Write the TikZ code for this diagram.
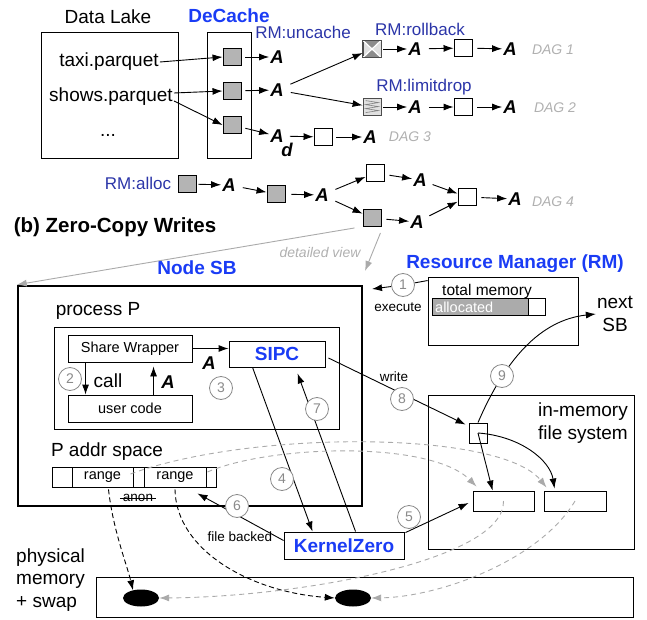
\documentclass[tikz,border=0pt]{standalone}
\usepackage{fontspec}
\setmainfont{Liberation Sans}
\usetikzlibrary{arrows.meta,calc,shapes.geometric}
\definecolor{decblue}{HTML}{1A3CF5}
\definecolor{rmblue}{HTML}{2B35A8}
\definecolor{sqgrey}{HTML}{B4B4B4}
\definecolor{numgrey}{HTML}{8A8A8A}
\definecolor{dashgrey}{HTML}{AAAAAA}
\definecolor{daggrey}{HTML}{B0B0B0}
\tikzset{
 txt/.style={font=\fontsize{19}{22.5}\selectfont, inner sep=1pt},
 bluet/.style={font=\fontsize{19}{22}\selectfont\bfseries, text=decblue, inner sep=1pt},
 rmt/.style={font=\fontsize{17}{20}\selectfont, text=rmblue, inner sep=1pt},
 small/.style={font=\fontsize{14.5}{17}\selectfont},
 tiny/.style={font=\fontsize{13.5}{16}\selectfont, inner sep=1pt},
 dagl/.style={font=\fontsize{14}{17}\selectfont\itshape, text=daggrey, inner sep=1pt},
 Aa/.style={font=\fontsize{18.5}{20}\selectfont\bfseries\itshape, inner sep=1pt},
 gsq/.style={draw, fill=sqgrey, minimum width=18pt, minimum height=17pt, inner sep=0pt, line width=0.9pt},
 wsq/.style={gsq, fill=white},
 box/.style={draw, line width=0.9pt, inner sep=0pt},
 arr/.style={-{Latex[length=10pt,width=7pt]}, line width=0.9pt},
 garr/.style={-{Latex[length=10pt,width=7pt]}, line width=0.9pt, draw=dashgrey},
 gdash/.style={garr, dash pattern=on 5pt off 4pt},
 bdash/.style={arr, dash pattern=on 5pt off 3pt},
 num/.style={circle, draw=numgrey, text=numgrey, fill=white, minimum size=23pt, inner sep=0pt, line width=0.8pt, font=\fontsize{14}{16}\selectfont},
}
\begin{document}
\begin{tikzpicture}[x=1pt,y=-1pt]
\path[use as bounding box] (0,0) rectangle (647,620);

% ---------- top: DeCache ----------
\node[txt] (dl) at (108,17) {Data Lake};
\node[box, minimum width=137pt, minimum height=126pt] (lake) at (109.5,95) {};
\node[txt] (taxi) at (109,62) {taxi.parquet};
\node[txt] (shows) at (111,97) {shows.parquet};
\node[txt] (dots) at (108,135) {...};
\node[bluet] (dc) at (229,16) {DeCache};
\node[box, minimum width=44pt, minimum height=126pt] (dcbox) at (229,95) {};
\node[gsq] (s1) at (232,57) {};
\node[gsq] (s2) at (232,91) {};
\node[gsq] (s3) at (232,125) {};
\node[rmt] (rmu) at (303,32) {RM:uncache};
\draw[arr] (taxi.east) -- (s1.west);
\draw[arr] ($(shows.east)+(0,-4)$) -- (s2.west);
\draw[arr] ($(shows.east)+(0,4)$) -- (s3.west);
\node[Aa] (a1) at (277,57) {A};
\node[Aa] (a2) at (277,90) {A};
\node[Aa] (a3) at (277,136) {A};
\node[Aa] (a3d) at (287,150) {d};
\draw[arr,shorten <=4pt] (s1) -- (a1);
\draw[arr,shorten <=4pt] (s2) -- (a2);
\draw[arr,shorten <=4pt] (s3) -- (a3);
\node[wsq] (w3) at (323,137) {};
\draw[arr,shorten <=5pt] (a3) -- (w3);
\node[Aa] (a3b) at (370,137) {A};
\draw[arr,shorten <=4pt] (w3) -- (a3b);
\node[dagl] (dag3) at (410,137) {DAG 3};

% rollback row
\node[draw=black!70, line width=0.8pt, fill=black!12, minimum width=18pt, minimum height=17pt, inner sep=0pt] (rb) at (372,49) {};
\fill[black!45] (rb.north west) -- (rb.center) -- (rb.north east) -- cycle;
\fill[black!45] (rb.south west) -- (rb.center) -- (rb.south east) -- cycle;
\draw[white, line width=1.2pt] (rb.north west) -- (rb.south east) (rb.north east) -- (rb.south west);
\draw[black!70, line width=0.8pt] (rb.north west) rectangle (rb.south east);
\node[rmt] (rmr) at (420,29) {RM:rollback};
\node[Aa] (a4) at (415,49) {A};
\node[wsq] (w1) at (463,48) {};
\node[Aa] (a5) at (510,49) {A};
\node[dagl] (dag1) at (553,50) {DAG 1};
\draw[arr,shorten <=2pt] (rb) -- (a4);
\draw[arr,shorten <=6pt] (a4) -- (w1);
\draw[arr,shorten <=5pt] (w1) -- (a5);

% limitdrop row
\node[draw=black!70, line width=0.8pt, fill=black!12, minimum width=18pt, minimum height=17pt, inner sep=0pt] (ld) at (372,107) {};
\draw[black!50, line width=0.6pt] ($(ld.north west)+(3,2.5)$) -- ($(ld.north east)+(-3,4.5)$) -- ($(ld.north west)+(3,6.5)$) -- ($(ld.north east)+(-3,8.5)$) -- ($(ld.north west)+(3,10.5)$) -- ($(ld.north east)+(-3,12.5)$) -- ($(ld.north west)+(3,14.5)$);
\node[rmt] (rml2) at (424,87) {RM:limitdrop};
\node[Aa] (a6) at (415,107) {A};
\node[wsq] (w2) at (463,107) {};
\node[Aa] (a7) at (510,107) {A};
\node[dagl] (dag2) at (555,108) {DAG 2};
\draw[arr,shorten <=2pt] (ld) -- (a6);
\draw[arr,shorten <=6pt] (a6) -- (w2);
\draw[arr,shorten <=5pt] (w2) -- (a7);
\draw[arr,shorten <=6pt] (a2) -- (rb);
\draw[arr,shorten <=6pt] (a2) -- (ld);

% DAG 4 row
\node[rmt] (rma) at (138,183) {RM:alloc};
\node[gsq] (g1) at (187,184) {};
\node[Aa] (a8) at (229,185) {A};
\node[gsq] (g2) at (276,194) {};
\node[Aa] (a9) at (322,195) {A};
\node[wsq] (w4) at (375,173) {};
\node[gsq] (g3) at (372,218) {};
\node[Aa] (a10) at (420,180) {A};
\node[Aa] (a11) at (417,222) {A};
\node[wsq] (w5) at (467,197) {};
\node[Aa] (a12) at (515,199) {A};
\node[dagl] (dag4) at (553,202) {DAG 4};
\draw[arr,shorten <=2pt] (g1) -- (a8);
\draw[arr,shorten <=6pt] (a8) -- (g2);
\draw[arr,shorten <=6pt] (g2) -- (a9);
\draw[arr,shorten <=6pt] (a9) -- (w4);
\draw[arr,shorten <=6pt] (a9) -- (g3);
\draw[arr,shorten <=5pt] (w4) -- (a10);
\draw[arr,shorten <=5pt] (g3) -- (a11);
\draw[arr,shorten <=5pt] (a10) -- (w5);
\draw[arr,shorten <=5pt] (a11) -- (w5);
\draw[arr,shorten <=5pt] (w5) -- (a12);

\node[font=\fontsize{20.5}{24}\selectfont\bfseries, inner sep=1pt] (zc) at (115,227) {(b) Zero-Copy Writes};
\node[font=\fontsize{14}{16}\selectfont\itshape, text=daggrey, inner sep=1pt] (dv) at (320,252) {detailed view};

% ---------- Node SB ----------
\node[bluet] (nsb) at (197,268) {Node SB};
\node[draw, line width=2.5pt, minimum width=344pt, minimum height=220pt, inner sep=0pt] (sb) at (190,396) {};
\coordinate (sbtip) at (365,271);
\draw[garr] ($(g3.south west)+(-8,1)$) -- (sb.north west);
\draw[garr] ($(g3.south east)+(-1,6)$) -- (sbtip);

% RM
\node[bluet] (rml) at (515,264) {Resource Manager (RM)};
\node[box, minimum width=150pt, minimum height=68pt] (rm) at (503,311) {};
\node[font=\fontsize{15.5}{18}\selectfont, inner sep=1pt] (tm) at (487,291) {total memory};
\node[box, minimum width=113pt, minimum height=17pt] (bar) at (488.5,306.5) {};
\node[box, fill=black!33, minimum width=96pt, minimum height=17pt, anchor=west] (alloc) at (bar.west) {};
\node[small, text=white, inner sep=1pt, anchor=west] (alloctxt) at (434,307) {allocated};
\coordinate (extip) at (372,289);
\node[tiny] (exe) at (398,307) {execute};
\node[txt, align=center] (nextsb) at (615,314) {next\\SB};

% process P
\node[txt] (pp) at (98,311) {process P};
\node[box, minimum width=285pt, minimum height=102pt] (proc) at (196.5,378) {};
\node[box, small, minimum width=124pt, minimum height=27pt] (sw) at (130,348.5) {Share Wrapper};
\node[box, small, minimum width=124pt, minimum height=27pt] (uc) at (130,408.5) {user code};
\node[box, bluet, inner sep=0pt, minimum width=96pt, minimum height=26pt] (sipc) at (277,354) {SIPC};
\draw[arr] (sw.east) -- (sw.east -| sipc.west);
\node[Aa] (aw) at (209,363) {A};
\draw[arr] ($(sw.south west)+(18,0)$) -- ($(uc.north west)+(18,0)$);
\node[txt] (call) at (108,381) {call};
\draw[arr] ($(uc.north west)+(86,0)$) -- ($(sw.south west)+(86,4)$);
\node[Aa] (au) at (168,382) {A};

% KernelZero
\node[box, bluet, inner sep=0pt, minimum width=120pt, minimum height=27pt] (kz) at (344,545.5) {KernelZero};
\draw[arr] ($(sipc.south west)+(24,0)$) -- ($(kz.north west)+(29,0)$);
\draw[arr] ($(kz.north west)+(72,0)$) -- ($(sipc.south west)+(69,6)$);

% file system
\node[box, minimum width=206pt, minimum height=154pt] (fs) at (531,472) {};
\node[txt, align=right, anchor=north east] (fst) at (629,402) {in-memory\\file system};
\node[box, minimum width=18pt, minimum height=20pt] (fsq) at (478,433) {};
\node[box, minimum width=61pt, minimum height=20pt] (f1) at (503.5,501) {};
\node[box, minimum width=62pt, minimum height=20pt] (f2) at (575,501) {};
\draw[arr] (fsq.center) -- ($(f1.north west)+(20,0)$);
\draw[arr] (fsq.center) .. controls (520,436) and (550,460) .. ($(f2.north west)+(11,-2)$);
\draw[arr] (fsq.north) .. controls (505,360) and (540,320) .. (nextsb.west);
\draw[arr] ($(sipc.east)+(3,4)$) -- ($(fsq.north west)+(-3,2)$);
\node[tiny] (wr) at (394,377) {write};
\draw[arr] ($(kz.north east)+(1,1)$) -- ($(f1.west)+(-4,2)$);

% P addr space
\node[txt] (pas) at (107,452) {P addr space};
\node[box, minimum width=20pt, minimum height=20pt] (ab0) at (62,477) {};
\node[box, small, minimum width=61pt, minimum height=20pt] (r1) at (102.5,477) {range};
\node[box, minimum width=11pt, minimum height=20pt] (ab1) at (138.5,477) {};
\node[box, small, minimum width=62pt, minimum height=20pt] (r2) at (175,477) {range};
\node[box, minimum width=10pt, minimum height=20pt] (ab2) at (211,477) {};
\node[tiny] (anon) at (138,498) {anon};
\draw[line width=0.7pt] ($(anon.west)+(-2,0)$) -- ($(anon.east)+(2,0)$);
\draw[arr] ($(kz.west)+(0,-5)$) -- ($(r2.south east)+(-9,6)$);
\node[tiny] (fb) at (240,537) {file backed};

% physical memory
\node[txt, align=left, anchor=west] (phys) at (15,580) {physical\\memory\\+ swap};
\node[box, minimum width=537pt, minimum height=40pt] (pm) at (364.5,597) {};
\node[ellipse, fill=black, minimum width=36pt, minimum height=17pt, inner sep=0pt] (e1) at (141,598) {};
\node[ellipse, fill=black, minimum width=36pt, minimum height=17pt, inner sep=0pt] (e2) at (353,598) {};

% dashed mappings
\draw[bdash] ($(r1.south)+(6,2)$) .. controls (113,530) and (127,565) .. ($(e1.north)+(-8,1)$);
\draw[bdash] ($(r2.south)+(0,2)$) .. controls (176,550) and (250,592) .. (e2.west);
\draw[gdash] ($(r1.east)+(-3,-3)$) .. controls (250,430) and (500,430) .. ($(f2.north west)+(3,-3)$);
\draw[gdash] ($(r2.east)+(1,-5)$) .. controls (270,445) and (430,440) .. ($(f1.north west)+(4,-4)$);
\draw[gdash] (f1.center) .. controls (505,560) and (300,597) .. (e1.east);
\draw[gdash] (f2.center) .. controls (540,560) and (440,597) .. (e2.east);

% step circles
\node[num] (c1) at (403,285) {1};
\draw[line width=0.9pt] (c1) -- ($(rm.north west)+(0,4)$);
\draw[arr] (c1) -- (extip);
\node[num] (c2) at (70,379) {2};
\node[num] (c3) at (221,388) {3};
\node[num] (c4) at (282,479) {4};
\node[num] (c5) at (409,517) {5};
\node[num] (c6) at (237,506) {6};
\node[num] (c7) at (317,409) {7};
\node[num] (c8) at (402,399) {8};
\node[num] (c9) at (502,376) {9};
\end{tikzpicture}
\end{document}
